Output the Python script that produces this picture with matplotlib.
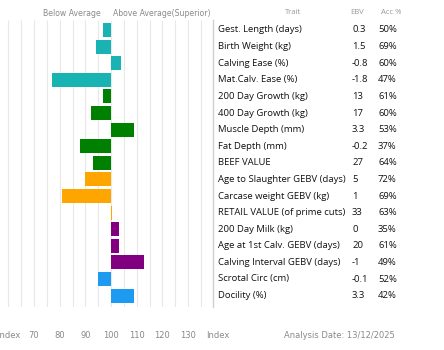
import numpy as np
import matplotlib
matplotlib.use('Agg')
import matplotlib.pyplot as plt

traits = ['Gest. Length (days)', 'Birth Weight (kg)', 'Calving Ease (%)', 'Mat.Calv. Ease (%)',
          '200 Day Growth (kg)', '400 Day Growth (kg)', 'Muscle Depth (mm)', 'Fat Depth (mm)',
          'BEEF VALUE', 'Age to Slaughter GEBV (days)', 'Carcase weight GEBV (kg)',
          'RETAIL VALUE (of prime cuts)', '200 Day Milk (kg)', 'Age at 1st Calv. GEBV (days)',
          'Calving Interval GEBV (days)', 'Scrotal Circ (cm)', 'Docility (%)']
ebv = ['0.3', '1.5', '-0.8', '-1.8', '13', '17', '3.3', '-0.2', '27', '5', '1', '33',
       '0', '20', '-1', '-0.1', '3.3']
acc = ['50%', '69%', '60%', '47%', '61%', '60%', '53%', '37%', '64%', '72%', '69%', '63%',
       '35%', '61%', '49%', '52%', '42%']
index = [97, 94, 104, 77, 97, 92, 109, 88, 93, 90, 81, 100.5, 103, 103, 113, 95, 109]
colors = ['#1ab3b3'] * 4 + ['#008000'] * 5 + ['#ffa500'] * 3 + ['#800080'] * 3 + ['#1e9af0'] * 2
tick_vals = [60, 70, 80, 90, 100, 110, 120, 130]
tick_labels = ['Index', '70', '80', '90', '100', '110', '120', '130']

W, H = 444, 350
fig = plt.figure(figsize=(W / 100, H / 100), dpi=100)

# axes spans px 0..213 horizontally, 20..307 vertically
ax = fig.add_axes([0, 1 - 307 / H, 213 / W, 287 / H])
ax.set_xlim(56.76, 139.7)
ax.set_ylim(16.69, -0.6)

ax.vlines(np.arange(60, 140, 5), -0.6, 16.69, color='#e8e8e8', lw=0.8, zorder=0)

y = np.arange(len(traits))
lefts = [min(v, 100) for v in index]
widths = [abs(v - 100) for v in index]
ax.barh(y, widths, left=lefts, height=0.84, color=colors, zorder=2)

for s in ['top', 'left', 'bottom']:
    ax.spines[s].set_visible(False)
ax.spines['right'].set_color('#d0d0d0')
ax.spines['right'].set_linewidth(1.0)
ax.set_yticks([])
ax.set_xticks(tick_vals)
ax.set_xticklabels(tick_labels, fontsize=6, color='#888888', family='DejaVu Sans')
ax.tick_params(axis='x', length=0, pad=17.5)

gray = '#8a8a8a'
fig.text(72 / W, 1 - 14 / H, 'Below Average', ha='center', va='center', fontsize=5.6, color=gray)
fig.text(162 / W, 1 - 14 / H, 'Above Average(Superior)', ha='center', va='center', fontsize=5.6, color=gray)
fig.text(218 / W, 1 - 336 / H, 'Index', ha='center', va='center', fontsize=6, color=gray)
fig.text(284 / W, 1 - 336 / H, 'Analysis Date: 13/12/2025', ha='left', va='center', fontsize=6, color=gray)

tf = 'Open Sans'
fig.text(293 / W, 1 - 12 / H, 'Trait', ha='center', va='center', fontsize=5.5, color='#999999', family=tf)
fig.text(357 / W, 1 - 12 / H, 'EBV', ha='center', va='center', fontsize=5.5, color='#999999', family=tf)
fig.text(391 / W, 1 - 12 / H, 'Acc %', ha='center', va='center', fontsize=5.5, color='#999999', family=tf)

for i in range(len(traits)):
    yy = 1 - (30 + i * 16.6) / H
    fig.text(218 / W, yy, traits[i], ha='left', va='center', fontsize=6.8, color='#111111', family=tf)
    fig.text(352 / W, yy, ebv[i], ha='left', va='center', fontsize=6.8, color='#111111', family=tf)
    fig.text(378 / W, yy, acc[i], ha='left', va='center', fontsize=6.8, color='#111111', family=tf)

fig.savefig('out.png', dpi=100)
